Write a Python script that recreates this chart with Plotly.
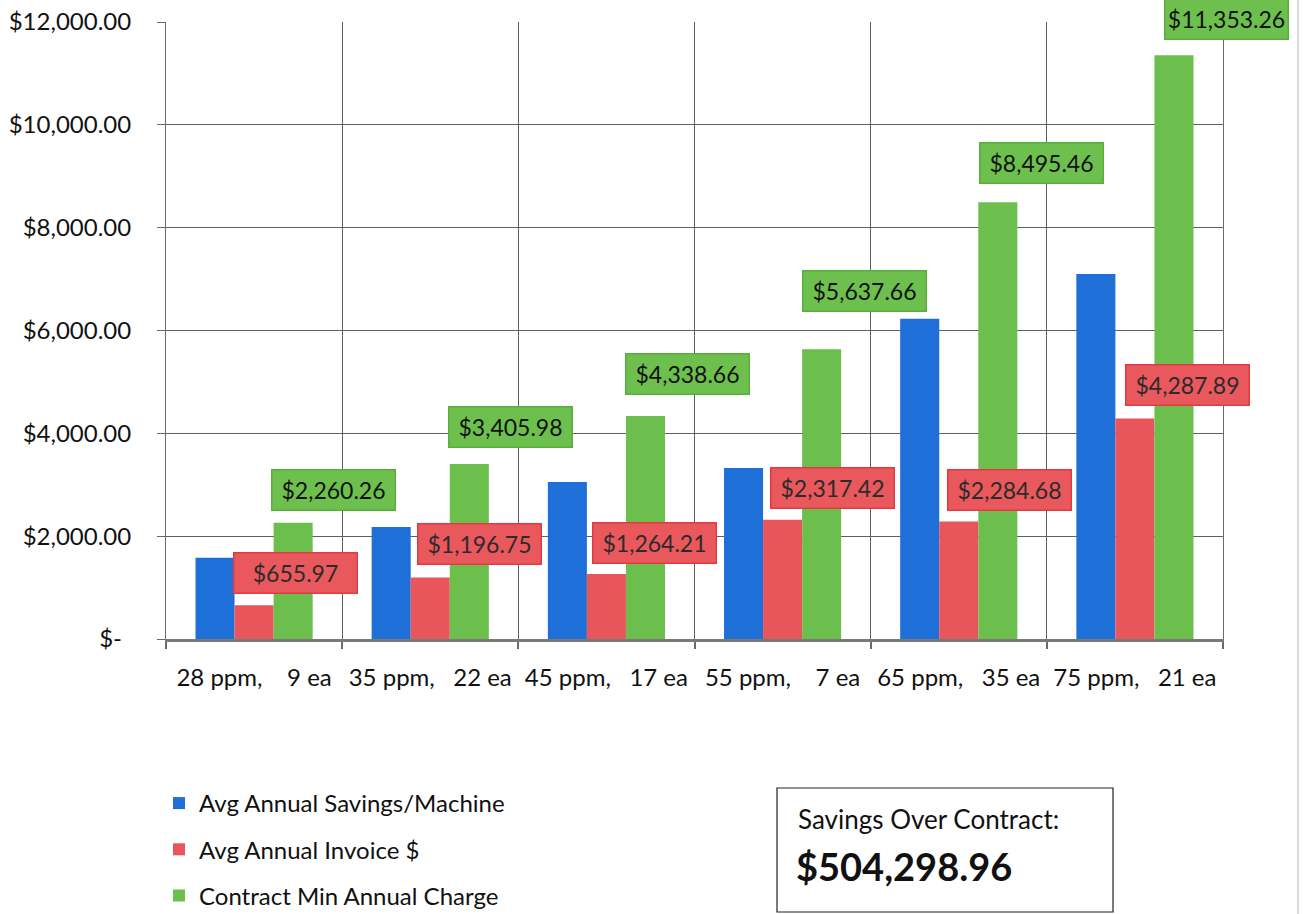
import plotly.graph_objects as go

NB = "\u00a0"
categories = ["28 ppm,    9 ea", "35 ppm,   22 ea", "45 ppm,   17 ea",
              "55 ppm,    7 ea", "65 ppm,   35 ea", "75 ppm,   21 ea"]
cat_labels = [c.replace(" ", NB) for c in categories]

savings = [1580, 2180, 3055, 3325, 6230, 7100]
invoice = [655.97, 1196.75, 1264.21, 2317.42, 2284.68, 4287.89]
contract_min = [2260.26, 3405.98, 4338.66, 5637.66, 8495.46, 11353.26]

series_names = ["Avg Annual Savings/Machine", "Avg Annual Invoice $", "Contract Min Annual Charge"]

y_tickvals = [0, 2000, 4000, 6000, 8000, 10000, 12000]
y_ticktext = ["$-" + NB + "\u2009", "$2,000.00", "$4,000.00", "$6,000.00", "$8,000.00", "$10,000.00", "$12,000.00"]

total_savings = "$504,298.96"

# styles
BLUE = "#1f6fd8"
RED = "#e8555b"
GREEN = "#6cbf4c"
FONT = "Lato"

# plot area in pixels (for paper-coordinate helpers)
L, R, T, B = 166, 1223, 22, 639
W, H = R - L, B - T


def px(xp):
    return (xp - L) / W


def py(yp):
    return (B - yp) / H


# label nudges (pixels, relative to category centre / bar top)
red_dx = [41, 49, 48, 50, 51, 53]
red_dy = [32, 33, 31, 32, 32, 34]
green_dx = [79, 80, 81, 82, 83, 92]
green_dy = [33, 37, 42, 58, 39, 36]

fig = go.Figure()
for name, vals, col in zip(series_names, [savings, invoice, contract_min], [BLUE, RED, GREEN]):
    fig.add_trace(go.Bar(x=cat_labels, y=vals, name=name, marker=dict(color=col, line=dict(width=0)),
                         legendgroup=name))


def money(v):
    return "${:,.2f}".format(v)


for i, c in enumerate(cat_labels):
    fig.add_annotation(x=c, y=invoice[i], text=money(invoice[i]), showarrow=False,
                       xshift=red_dx[i], yshift=red_dy[i], yanchor="middle",
                       bgcolor="#e9585c", bordercolor="#e23a42", borderwidth=1.5,
                       width=120, height=37, font=dict(family=FONT, size=23, color="#2b2b2b"))
    fig.add_annotation(x=c, y=contract_min[i], text=money(contract_min[i]), showarrow=False,
                       xshift=green_dx[i], yshift=green_dy[i], yanchor="middle",
                       bgcolor="#6dc04d", bordercolor="#5aae3c", borderwidth=1.5,
                       width=120, height=37, font=dict(family=FONT, size=23, color="#111111"))

# savings box
fig.add_shape(type="rect", xref="paper", yref="paper",
              x0=px(777), x1=px(1113), y0=py(912), y1=py(788),
              line=dict(color="#222222", width=1.2), fillcolor="white")
fig.add_annotation(xref="paper", yref="paper", x=px(796), y=py(819),
                   xanchor="left", yanchor="middle", showarrow=False,
                   text="Savings Over Contract:", font=dict(family=FONT, size=26, color="#111111"))
fig.add_annotation(xref="paper", yref="paper", x=px(794), y=py(866),
                   xanchor="left", yanchor="middle", showarrow=False,
                   text="<b>" + total_savings + "</b>", font=dict(family=FONT, size=38, color="#111111"))

# scanned page edge on the right
fig.add_shape(type="line", xref="paper", yref="paper", x0=px(1298), x1=px(1298),
              y0=py(914), y1=py(0), line=dict(color="#b5b5b5", width=1))

fig.update_layout(
    width=1305, height=914,
    margin=dict(l=L, r=1305 - R, t=T, b=914 - B, autoexpand=False),
    paper_bgcolor="white", plot_bgcolor="white",
    barmode="group", bargap=0.335, bargroupgap=0,
    font=dict(family=FONT, size=22, color="#111111"),
    showlegend=True,
    legend=dict(orientation="v", xref="paper", yref="paper",
                x=px(159), y=py(781), xanchor="left", yanchor="top",
                font=dict(family=FONT, size=24, color="#111111"),
                tracegroupgap=12, traceorder="grouped", bgcolor="rgba(0,0,0,0)"),
)
fig.update_xaxes(type="category", range=[-0.5, len(cat_labels) - 0.5], tickson="boundaries",
                 showgrid=True, gridcolor="#5f5f5f", gridwidth=1,
                 showline=True, linecolor="#7a7a7a", linewidth=3, ticks="outside", ticklen=7,
                 tickcolor="#6a6a6a", tickwidth=2, ticklabelstandoff=15, tickangle=0,
                 tickfont=dict(family=FONT, size=24, color="#111111"), zeroline=False)
fig.update_yaxes(range=[0, 12000], tickvals=y_tickvals, ticktext=y_ticktext, showgrid=True,
                 gridcolor="#5f5f5f", gridwidth=1, showline=True, mirror=True, linecolor="#6a6a6a",
                 linewidth=1, ticks="outside", ticklen=8, tickcolor="#6a6a6a",
                 ticklabelstandoff=21, tickfont=dict(family=FONT, size=24, color="#111111"),
                 zeroline=False)

fig.write_html("out.html")
